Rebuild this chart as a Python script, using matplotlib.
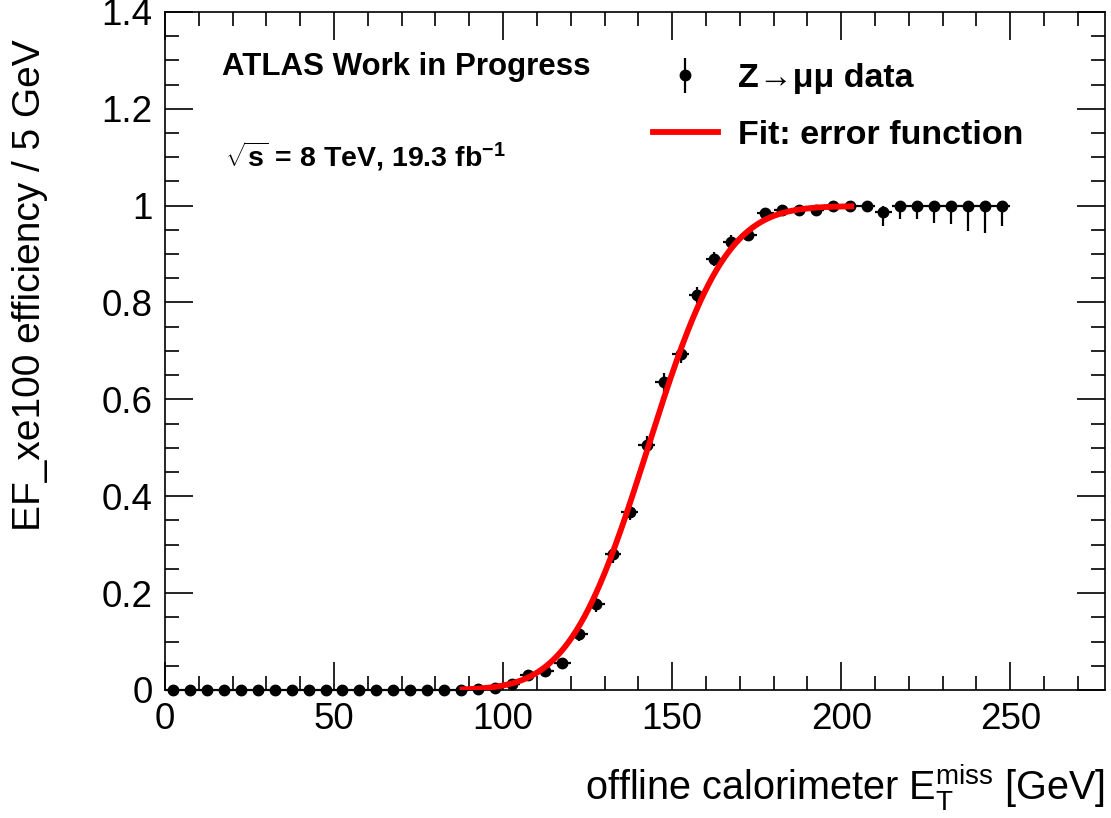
import math
import matplotlib
matplotlib.use('Agg')
import matplotlib.pyplot as plt
import numpy as np
from matplotlib.lines import Line2D
from matplotlib.ticker import MultipleLocator, FuncFormatter

plt.rcParams['font.family'] = ['Liberation Sans', 'DejaVu Sans']
plt.rcParams['mathtext.fontset'] = 'custom'
plt.rcParams['mathtext.rm'] = 'Liberation Sans'
plt.rcParams['mathtext.bf'] = 'Liberation Sans:bold'
plt.rcParams['mathtext.it'] = 'Liberation Sans:italic'

# 5 GeV bins of offline MET
bin_width = 5.0
bin_centers = np.arange(2.5, 250, bin_width)

# trigger efficiency per bin
eff = [0.0] * 18 + [
    0.002, 0.005, 0.012, 0.030, 0.040, 0.055,
    0.115, 0.177, 0.280, 0.368, 0.505, 0.635, 0.693, 0.815, 0.890, 0.925, 0.940,
    0.985, 0.990, 0.991, 0.990,
    1.0, 1.0, 1.0,
    0.987,
    1.0, 1.0, 1.0, 1.0, 1.0, 1.0, 1.0,
]
err_down = [0.0] * 18 + [
    0.003, 0.005, 0.006, 0.008, 0.009, 0.010,
    0.014, 0.016, 0.018, 0.018, 0.019, 0.019, 0.018, 0.017, 0.015, 0.014, 0.013,
    0.010, 0.009, 0.009, 0.010,
    0.008, 0.010, 0.012,
    0.029,
    0.027, 0.027, 0.035, 0.038, 0.052, 0.057, 0.043,
]
err_up = [0.0] * 18 + [
    0.003, 0.005, 0.006, 0.008, 0.009, 0.010,
    0.014, 0.016, 0.018, 0.018, 0.019, 0.019, 0.018, 0.017, 0.015, 0.014, 0.013,
    0.008, 0.007, 0.007, 0.008,
    0.0, 0.0, 0.0,
    0.013,
    0.0, 0.0, 0.0, 0.0, 0.0, 0.0, 0.0,
]

# error function fit: 0.5 * plateau * (1 + erf((x - mu) / (sqrt(2) sigma)))
fit_plateau = 0.999
fit_mu = 142.8
fit_sigma = 18.2
fit_range = (88.0, 203.0)

fig = plt.figure(figsize=(11.11, 8.18), dpi=100)
ax = fig.add_axes([0.1485, 0.1565, 0.846, 0.829])

ax.errorbar(bin_centers, eff, xerr=bin_width / 2, yerr=[err_down, err_up],
            fmt='o', color='black', markersize=7.5, elinewidth=1.6,
            capsize=0, zorder=3, clip_on=False)

xf = np.linspace(fit_range[0], fit_range[1], 400)
yf = [0.5 * fit_plateau * (1 + math.erf((v - fit_mu) / (math.sqrt(2) * fit_sigma))) for v in xf]
ax.plot(xf, yf, color='red', lw=4.2, zorder=4)

ax.set_xlim(0, 278)
ax.set_ylim(0, 1.4)
ax.xaxis.set_major_locator(MultipleLocator(50))
ax.xaxis.set_minor_locator(MultipleLocator(10))
ax.yaxis.set_major_locator(MultipleLocator(0.2))
ax.yaxis.set_minor_locator(MultipleLocator(0.05))
ax.yaxis.set_major_formatter(FuncFormatter(lambda v, p: '%g' % round(v, 2)))
ax.tick_params(which='both', direction='in', top=True, right=True, labelsize=26.5, width=1.2)
ax.tick_params(which='major', length=20, pad=9)
ax.tick_params(which='minor', length=10)
for s in ax.spines.values():
    s.set_linewidth(1.2)

ax.set_xlabel(r'offline calorimeter $\mathrm{E}_{\mathrm{T}}^{\mathrm{miss}}$ [GeV]',
              fontsize=28.5, loc='right')
ax.xaxis.set_label_coords(1.0, -0.106)
ax.set_ylabel('EF_xe100 efficiency / 5 GeV', fontsize=28, loc='top')
ax.yaxis.set_label_coords(-0.124, 0.96)

ax.text(0.061, 0.918, 'ATLAS Work in Progress', transform=ax.transAxes,
        fontsize=22.5, fontweight='bold', va='center')
ax.text(0.064, 0.787, r'$\mathbf{\sqrt{s}}$ = 8 TeV, 19.3 fb$^{\mathbf{-1}}$',
        transform=ax.transAxes, fontsize=20.5, fontweight='bold', va='center')

h_data = ax.errorbar([], [], yerr=[], fmt='o', color='black', markersize=7.5,
                     elinewidth=1.6, capsize=0)
h_fit = Line2D([], [], color='red', lw=4.2)
leg = ax.legend([h_data, h_fit], ['Z→μμ data', 'Fit: error function'],
                loc='upper left', bbox_to_anchor=(0.519, 0.924), frameon=False,
                prop={'size': 24.5, 'weight': 'bold'}, borderpad=0, borderaxespad=0,
                handlelength=1.91, handletextpad=0.59, labelspacing=0.74)

fig.savefig('out.png', dpi=100)
